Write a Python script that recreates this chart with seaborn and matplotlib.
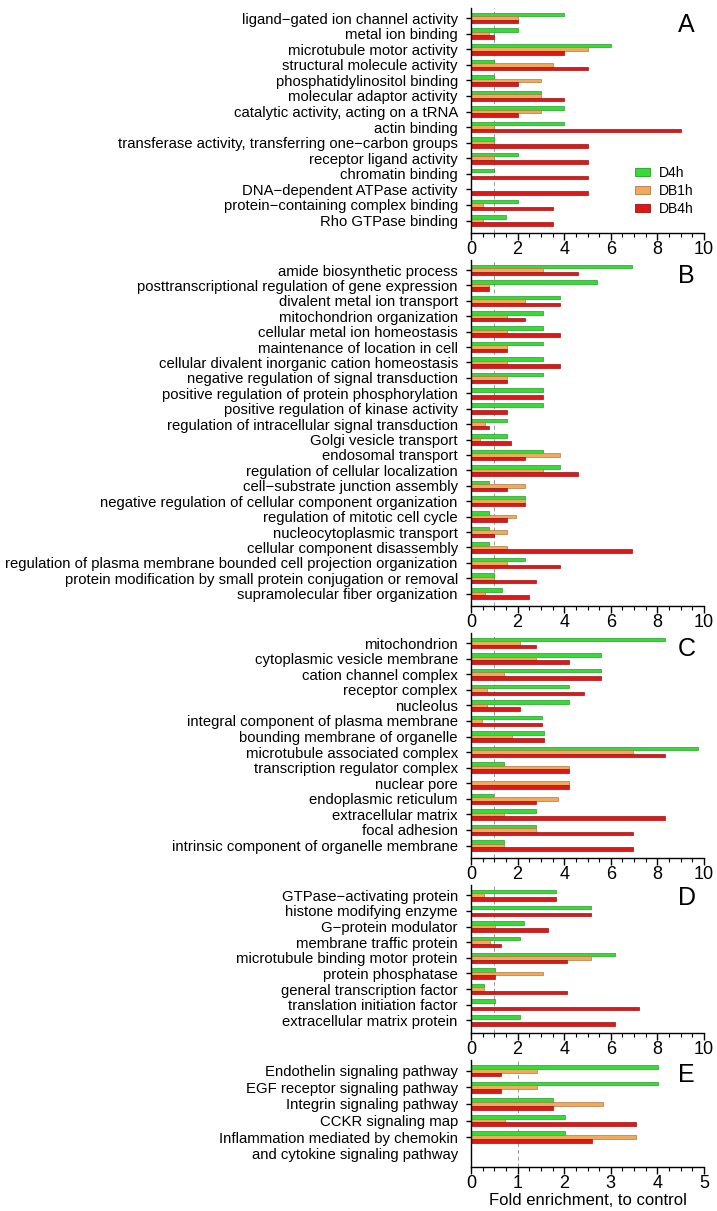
import pandas as pd
import matplotlib
matplotlib.use("Agg")
import matplotlib.pyplot as plt
import matplotlib.colors as mcolors
import matplotlib.patches as mpatches
from matplotlib.ticker import MultipleLocator
import seaborn as sns

samples = ["D4h", "DB1h", "DB4h"]
colors = ["#35dc35", "#f2a95c", "#dc1818"]

# Panel A - molecular function
terms_a = ["ligand\u2212gated ion channel activity", "metal ion binding", "microtubule motor activity",
           "structural molecule activity", "phosphatidylinositol binding", "molecular adaptor activity",
           "catalytic activity, acting on a tRNA", "actin binding",
           "transferase activity, transferring one\u2212carbon groups", "receptor ligand activity",
           "chromatin binding", "DNA\u2212dependent ATPase activity", "protein\u2212containing complex binding",
           "Rho GTPase binding"]
d4h_a = [4.0, 2.0, 6.0, 1.0, 1.0, 3.0, 4.0, 4.0, 1.0, 2.0, 1.0, 0.0, 2.0, 1.5]
db1h_a = [2.0, 0.77, 5.0, 3.5, 3.0, 3.0, 3.0, 1.0, 1.0, 1.0, 0.0, 0.0, 0.5, 0.5]
db4h_a = [2.0, 1.0, 4.0, 5.0, 2.0, 4.0, 2.0, 9.0, 5.0, 5.0, 5.0, 5.0, 3.5, 3.5]

# Panel B - biological process
terms_b = ["amide biosynthetic process", "posttranscriptional regulation of gene expression",
           "divalent metal ion transport", "mitochondrion organization", "cellular metal ion homeostasis",
           "maintenance of location in cell", "cellular divalent inorganic cation homeostasis",
           "negative regulation of signal transduction", "positive regulation of protein phosphorylation",
           "positive regulation of kinase activity", "regulation of intracellular signal transduction",
           "Golgi vesicle transport", "endosomal transport", "regulation of cellular localization",
           "cell\u2212substrate junction assembly", "negative regulation of cellular component organization",
           "regulation of mitotic cell cycle", "nucleocytoplasmic transport", "cellular component disassembly",
           "regulation of plasma membrane bounded cell projection organization",
           "protein modification by small protein conjugation or removal", "supramolecular fiber organization"]
d4h_b = [6.9, 5.4, 3.83, 3.08, 3.08, 3.08, 3.08, 3.08, 3.08, 3.08, 1.54,
         1.54, 3.08, 3.83, 0.77, 2.33, 0.77, 0.77, 0.77, 2.33, 1.0, 1.34]
db1h_b = [3.08, 0.77, 2.33, 1.54, 1.54, 1.54, 1.54, 1.54, 0.0, 0.0, 0.59,
          0.4, 3.83, 3.08, 2.33, 2.33, 1.94, 1.54, 1.54, 1.54, 1.0, 0.59]
db4h_b = [4.6, 0.77, 3.83, 2.33, 3.83, 1.54, 3.83, 1.54, 3.08, 1.54, 0.77,
          1.73, 2.33, 4.6, 1.54, 2.33, 1.54, 1.0, 6.9, 3.83, 2.8, 2.5]

# Panel C - cellular component
terms_c = ["mitochondrion", "cytoplasmic vesicle membrane", "cation channel complex", "receptor complex",
           "nucleolus", "integral component of plasma membrane", "bounding membrane of organelle",
           "microtubule associated complex", "transcription regulator complex", "nuclear pore",
           "endoplasmic reticulum", "extracellular matrix", "focal adhesion",
           "intrinsic component of organelle membrane"]
d4h_c = [8.34, 5.57, 5.57, 4.19, 4.19, 3.03, 3.14, 9.74, 1.4, 0.0, 0.94, 2.8, 2.8, 1.4]
db1h_c = [2.1, 2.8, 1.4, 0.7, 0.7, 0.49, 1.74, 6.96, 4.19, 4.19, 3.73, 1.4, 2.8, 1.4]
db4h_c = [2.8, 4.19, 5.57, 4.87, 2.1, 3.03, 3.14, 8.34, 4.19, 4.19, 2.8, 8.34, 6.96, 6.96]

# Panel D - protein class
terms_d = ["GTPase\u2212activating protein", "histone modifying enzyme", "G\u2212protein modulator",
           "membrane traffic protein", "microtubule binding motor protein", "protein phosphatase",
           "general transcription factor", "translation initiation factor", "extracellular matrix protein"]
d4h_d = [3.63, 5.17, 2.29, 2.09, 6.2, 1.04, 0.54, 1.04, 2.09]
db1h_d = [0.54, 0.0, 1.04, 0.8, 5.17, 3.11, 0.54, 0.0, 0.0]
db4h_d = [3.63, 5.17, 3.31, 1.3, 4.14, 1.04, 4.14, 7.23, 6.2]

# Panel E - pathways
terms_e = ["Endothelin signaling pathway", "EGF receptor signaling pathway", "Integrin signaling pathway",
           "CCKR signaling map", "Inflammation mediated by chemokin"]
d4h_e = [4.01, 4.01, 1.77, 2.01, 2.01]
db1h_e = [1.42, 1.42, 2.84, 0.72, 3.54]
db4h_e = [0.65, 0.65, 1.77, 3.54, 2.59]
extra_line_e = "and cytokine signaling pathway"

sns.set_theme(style="ticks")
plt.rcParams["font.family"] = ["Liberation Sans", "DejaVu Sans"]
plt.rcParams["axes.linewidth"] = 1.0
plt.rcParams["axes.edgecolor"] = "black"
plt.rcParams["xtick.color"] = "black"
plt.rcParams["ytick.color"] = "black"
plt.rcParams["text.color"] = "black"
plt.rcParams["axes.labelcolor"] = "black"


def make_long(terms, d4h, db1h, db4h):
    frames = []
    for name, vals in zip(samples, [d4h, db1h, db4h]):
        frames.append(pd.DataFrame({"term": terms, "sample": name, "value": vals}))
    return pd.concat(frames, ignore_index=True)


def darker(c, f=0.72):
    return tuple(v * f for v in mcolors.to_rgb(c))


def draw_panel(ax, terms, d4h, db1h, db4h, letter, xmax, minor, letter_y, extra_rows=0.0):
    df = make_long(terms, d4h, db1h, db4h)
    ax.axvline(1, color="#999999", lw=0.7, ls=(0, (4, 3)), zorder=0)
    sns.barplot(data=df, x="value", y="term", hue="sample", hue_order=samples,
                palette=colors, saturation=1, orient="h", width=0.68, legend=False, ax=ax, zorder=2)
    for patch in ax.patches:
        patch.set_edgecolor(darker(patch.get_facecolor()))
        patch.set_linewidth(0.5)
    n = len(terms)
    ax.set_ylim(n - 0.2 + extra_rows, -0.65)
    ax.set_xlim(0, xmax)
    ax.xaxis.set_major_locator(MultipleLocator(2 if xmax == 10 else 1))
    ax.xaxis.set_minor_locator(MultipleLocator(minor))
    ax.set_xlabel("")
    ax.set_ylabel("")
    sns.despine(ax=ax)
    ax.tick_params(axis="y", length=3.5, width=1.0, pad=6, labelsize=10.7)
    ax.tick_params(axis="x", which="major", length=5, width=1.0, pad=0.5, labelsize=13)
    ax.tick_params(axis="x", which="minor", length=3, width=0.8)
    ax.text(0.925, letter_y, letter, transform=ax.transAxes, ha="center", va="center", fontsize=18)


W, H = 717, 1211
fig = plt.figure(figsize=(W / 100, H / 100), dpi=100)


def add_axes(top, bottom):
    return fig.add_axes([471 / W, 1 - bottom / H, 233 / W, (bottom - top) / H])


ax_a = add_axes(8, 233)
draw_panel(ax_a, terms_a, d4h_a, db1h_a, db4h_a, "A", 10, 0.5, 0.925)
handles = [mpatches.Patch(facecolor=c, edgecolor=darker(c), linewidth=0.6, label=s)
           for s, c in zip(samples, colors)]
ax_a.legend(handles=handles, loc="lower left", bbox_to_anchor=(0.65, 0.02), frameon=False,
            fontsize=10, handlelength=1.1, handleheight=0.55, labelspacing=0.3, handletextpad=0.6)

ax_b = add_axes(260, 606)
draw_panel(ax_b, terms_b, d4h_b, db1h_b, db4h_b, "B", 10, 0.5, 0.955)

ax_c = add_axes(633, 858)
draw_panel(ax_c, terms_c, d4h_c, db1h_c, db4h_c, "C", 10, 0.5, 0.93)

ax_d = add_axes(885, 1033)
draw_panel(ax_d, terms_d, d4h_d, db1h_d, db4h_d, "D", 10, 0.5, 0.91)

ax_e = add_axes(1060, 1167)
draw_panel(ax_e, terms_e, d4h_e, db1h_e, db4h_e, "E", 5, 0.25, 0.86, extra_rows=1.0)
ax_e.set_yticks(list(range(len(terms_e) + 1)))
ax_e.set_yticklabels(terms_e + [extra_line_e])
ax_e.yaxis.get_major_ticks()[-1].tick1line.set_visible(False)
ax_e.set_xlabel("Fold enrichment, to control", fontsize=12, labelpad=1)

fig.savefig("out.png", dpi=100)
